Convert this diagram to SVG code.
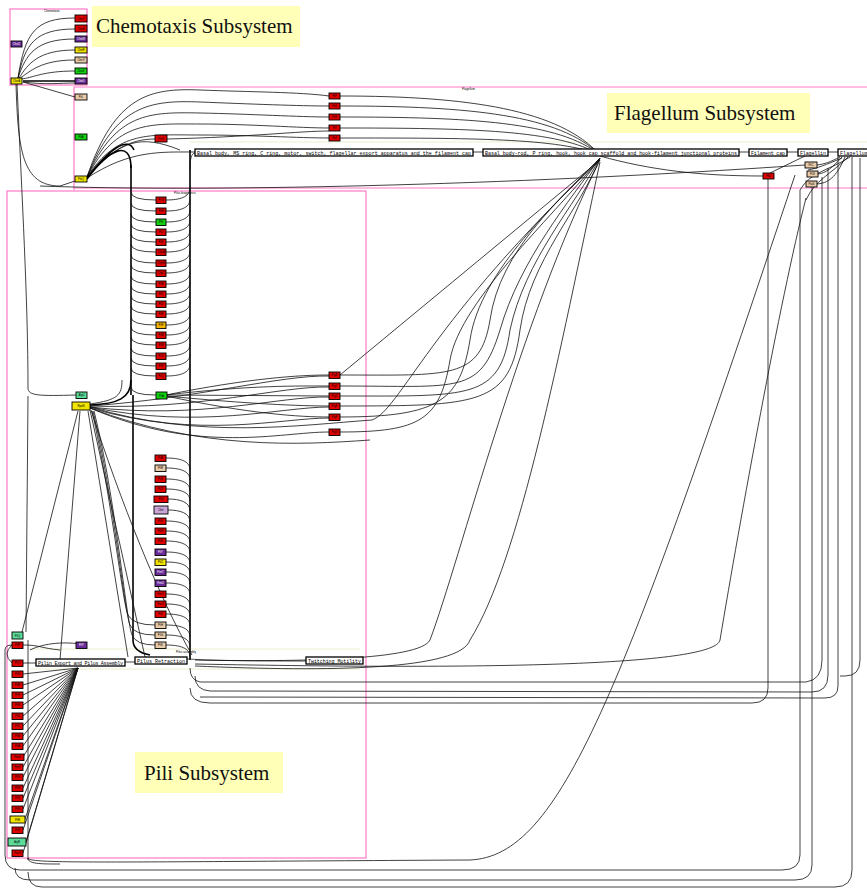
<svg xmlns="http://www.w3.org/2000/svg" width="867" height="890" viewBox="0 0 867 890">
<style>
.c{fill:none;stroke:#111;stroke-width:0.8}
.t{fill:none;stroke:#000;stroke-width:1.6}
.pk{fill:none;stroke:#ff7ac8;stroke-width:1.2}
.band{fill:none;stroke:#eeeed0;stroke-width:1}
.call{fill:#ffffb8}
.ct{font-family:"Liberation Serif",serif;font-size:21px;fill:#111}
.pb{fill:#fff;stroke:#000;stroke-width:1.3}
.pl{font-family:"Liberation Mono",monospace;font-size:5px;fill:#000}
.n rect{stroke:#000;stroke-width:0.9}
.n text{font-family:"Liberation Sans",sans-serif;font-size:2.8px;text-anchor:middle;fill:#000}
.r rect{fill:#e00000}.g rect{fill:#10d010}.p rect{fill:#6a2c98}.y rect{fill:#f0e400}.tn rect{fill:#e8cba8}.m rect{fill:#5cdc98}.o rect{fill:#f2b400}.l rect{fill:#caa6d6}
.p text{fill:#fff}
.tiny{font-family:"Liberation Sans",sans-serif;font-size:3px;fill:#000}
</style>
<rect width="867" height="890" fill="#fff"/>
<!-- cluster outlines -->
<rect class="pk" x="10" y="9" width="77" height="76"/>
<path class="pk" d="M74,190 V87 H867 M74,188 H867"/>
<rect class="pk" x="7" y="191" width="359" height="667"/>
<path class="band" d="M190,142 H867 M30,649 H360 M30,669 H360"/>
<text class="tiny" x="44" y="12">Chemotaxis</text>
<text class="tiny" x="462" y="90">Flagellum</text>
<text class="tiny" x="174" y="194">Pilus biogenesis</text>
<text class="tiny" x="176" y="653">Pilus assembly</text>
<!-- callouts -->
<g id="label-chemotaxis"><rect class="call" x="92" y="6" width="208" height="41"/><text class="ct" x="96" y="33">Chemotaxis Subsystem</text></g>
<g id="label-flagellum"><rect class="call" x="607" y="93" width="203" height="40"/><text class="ct" x="614" y="120">Flagellum Subsystem</text></g>
<g id="label-pili"><rect class="call" x="135" y="752" width="148" height="41"/><text class="ct" x="144" y="780">Pili Subsystem</text></g>

<g id="connectors">
<!-- chemotaxis -->
<path class="c" d="M18,78 C25,33 35,18 75,18 M18,78 C25,44 35,29 75,29 M18,78 C26,54 36,39 75,39 M19,78 C28,64 38,50 75,50 M20,78 C30,72 40,60 75,60 M21,79 C33,78 42,71 75,71"/>
<path class="t" d="M23,81 L75,81"/>
<path class="c" d="M23,82 C45,85 60,83 75,83 M23,82 L75,97"/>
<path class="c" d="M17,84 C22,200 28,300 28,388 C28,396 40,396 76,395"/>
<path class="c" d="M16,84 C18,150 22,186 60,186 L75,181"/>
<path class="c" d="M40,186 C200,192 500,186 805,165"/>
<path class="c" d="M28,396 L26,632"/>
<!-- flagellum hub fan up -->
<path class="c" d="M87,177 C115,95 150,88 200,90 S300,92 329,96 M87,177 C115,105 150,100 200,102 S300,106 329,106 M87,177 C116,112 150,112 200,113 S300,117 329,117 M87,177 C117,120 150,124 200,124 S300,128 329,128 M87,177 C118,130 150,135 200,135 S300,138 329,138"/>
<path class="c" d="M87,178 C110,150 130,139 155,139 M87,178 C130,150 160,152 195,152 M87,178 C120,140 140,134 180,150"/>
<path class="c" d="M340,96 C470,96 560,110 600,155 M340,106 C470,106 560,115 600,155 M340,117 C470,117 560,122 600,155 M340,128 C470,128 560,130 600,155 M340,138 C470,138 560,138 600,155 M167,139 C250,137 300,131 329,131"/>
<!-- flagellum process arrows -->
<path class="c" d="M473,152 H483 M739,152 H749 M787,152 H798 M828,152 H838"/>
<!-- vertical bundles -->
<path class="t" d="M190,150 V660 M131,165 V395 M133,395 V640 Q133,652 150,655"/>
<path class="t" d="M87,179 C108,150 131,138 131,168 M87,178 C110,148 128,136 134,150"/>
<path class="t" d="M90,405 C118,404 131,398 131,380"/>
<!-- upper column left connectors -->
<path class="c" d="M131,192 Q131,200 156,200 M131,203 Q131,211 156,211 M131,214 Q131,222 156,222 M131,224 Q131,232 156,232 M131,234 Q131,242 156,242 M131,244 Q131,252 156,252 M131,255 Q131,263 156,263 M131,265 Q131,273 156,273 M131,276 Q131,284 156,284 M131,286 Q131,294 156,294 M131,296 Q131,304 156,304 M131,306 Q131,314 156,314 M131,317 Q131,325 156,325 M131,327 Q131,335 156,335 M131,337 Q131,345 156,345 M131,348 Q131,356 156,356 M131,358 Q131,366 156,366 M131,368 Q131,376 156,376 M131,387 Q131,395 156,395"/>
<!-- upper column right connectors -->
<path class="c" d="M166,200 C180,200 190,197 190,188 M166,211 C180,211 190,208 190,199 M166,222 C180,222 190,219 190,210 M166,232 C180,232 190,229 190,220 M166,242 C180,242 190,239 190,230 M166,252 C180,252 190,249 190,240 M166,263 C180,263 190,260 190,251 M166,273 C180,273 190,270 190,261 M166,284 C180,284 190,281 190,272 M166,294 C180,294 190,291 190,282 M166,304 C180,304 190,301 190,292 M166,314 C180,314 190,311 190,302 M166,325 C180,325 190,322 190,313 M166,335 C180,335 190,332 190,323 M166,345 C180,345 190,342 190,333 M166,356 C180,356 190,353 190,344 M166,366 C180,366 190,363 190,354 M166,376 C180,376 190,373 190,364 M190,170 C190,156 192,153 196,153"/>
<!-- lower column right connectors -->
<path class="c" d="M166,458 C180,458 190,461 190,470 M166,468 C180,468 190,471 190,480 M166,479 C180,479 190,482 190,491 M166,489 C180,489 190,492 190,501 M168,499 C180,499 190,502 190,511 M168,510 C180,510 190,513 190,522 M166,521 C180,521 190,524 190,533 M166,531 C180,531 190,534 190,543 M166,541 C180,541 190,544 190,553 M166,552 C180,552 190,555 190,564 M166,562 C180,562 190,565 190,574 M166,572 C180,572 190,575 190,584 M166,583 C180,583 190,586 190,595 M166,594 C180,594 190,597 190,606 M166,604 C180,604 190,607 190,616 M166,614 C180,614 190,617 190,626 M166,625 C180,625 190,628 190,637 M166,635 C180,635 190,638 190,647 M166,645 C180,645 190,648 190,657"/>
<!-- tan nodes left connectors from RpoN -->
<path class="c" d="M92,411 C112,500 122,600 128,615 Q133,625 155,625 M93,411 C114,500 124,610 130,625 Q134,635 155,635 M94,411 C116,500 126,620 132,635 Q136,645 155,645"/>
<!-- RpoN fan -->
<path class="c" d="M78,411 L22,632 M80,411 L60,660 M88,411 L128,657 M90,410 L145,657 M91,410 C120,500 160,600 192,655"/>
<path class="c" d="M90,404 C118,400 122,395 122,380"/>
<path class="c" d="M166,395 C250,378 300,375 329,375 M166,395 C250,385 300,386 329,386 M166,395 L329,396 M166,396 C250,404 300,406 329,406 M166,396 C250,414 300,417 329,417"/>
<path class="c" d="M90,406 C200,398 280,375 329,376 M90,406 C200,410 280,386 329,387 M90,407 C200,420 280,396 329,397 M90,407 C200,430 280,407 329,407 M90,408 C200,440 280,418 329,418 M90,408 C200,455 280,432 329,432 M90,408 C200,450 300,445 370,440 M90,407 C200,440 300,425 372,420"/>
<!-- right reds to flagellum junction -->
<path class="c" d="M340,375 C450,375 480,380 490,320 C500,250 560,200 600,158 M340,386 C460,386 480,395 500,330 C520,260 570,200 600,158 M340,396 C470,396 500,400 510,330 C525,260 575,205 600,158 M340,406 C480,406 510,405 520,330 C530,260 580,210 600,158 M340,417 C440,417 460,400 470,340 C480,270 560,200 600,158 M340,375 L600,160 M372,420 C400,410 430,320 600,160 M340,432 C420,432 440,420 450,360 C460,300 560,210 600,158"/>
<path class="c" d="M600,160 C520,320 460,560 430,640 C420,660 300,662 195,660 M600,162 C560,350 520,560 470,640 C460,670 330,672 195,666"/>
<!-- flagellum right area -->
<path class="c" d="M600,156 C650,170 700,176 763,176 M805,156 L770,173 M840,157 C830,162 825,164 817,165 M842,157 C832,168 826,173 818,174 M845,157 C836,178 828,183 817,184 M850,157 C830,170 810,172 800,190 M848,157 C830,175 815,180 806,200 M842,158 C825,165 818,168 808,170"/>
<path class="c" d="M768,179 V688 Q768,703 752,703 L210,703 Q190,703 190,688"/>
<path class="c" d="M828,168 V675 Q828,692 812,692 L210,691 Q195,690 195,676"/>
<path class="c" d="M822,177 V660 Q822,680 806,682 L200,682 Q190,680 190,668"/>
<path class="c" d="M838,157 V686 Q838,698 825,698 L200,697"/>
<path class="c" d="M800,190 V855 Q800,870 782,870 L20,870 Q5,870 5,855 V650 Q5,645 12,645"/>
<path class="c" d="M812,187 V865 Q812,880 795,880 L30,880 Q15,880 15,868"/>
<path class="c" d="M852,157 V870 Q852,887 835,887 L42,887 Q28,887 28,872"/>
<path class="c" d="M860,158 V660 Q860,676 845,676 L840,676"/>
<path class="c" d="M28,858 C28,864 100,862 470,860 C560,856 620,700 795,175"/>
<path class="c" d="M806,198 C780,300 740,520 720,640 C715,665 500,670 195,664"/>
<!-- pili left -->
<path class="c" d="M12,645 Q2,654 12,663 M28,640 V860 M28,858 C28,864 40,864 60,864"/>
<path class="c" d="M23,674 L78,668 M23,685 L78,668 M23,695 L78,668 M23,705 L78,668 M23,716 L78,668 M23,726 L78,668 M23,736 L78,668 M23,746 L78,668 M23,757 L78,668 M23,767 L78,668 M23,777 L78,668 M23,788 L78,668 M23,798 L78,668 M23,809 L78,668 M25,819 L78,668 M23,830 L78,668 M26,842 L78,668 M23,853 L78,668"/>
<path class="c" d="M23,663 H36 M23,645 C40,645 40,648 60,650 M87,645 C60,640 40,645 30,650"/>
<path class="c" d="M125,662 H135 M187,659 C195,659 195,661 306,661"/>
</g>

<!-- chemotaxis nodes -->
<g id="che-left" class="n p"><rect x="11" y="41" width="11" height="6"/><text x="16.5" y="45">CheZ</text></g>
<g id="che-hub" class="n y"><rect x="11" y="78" width="11" height="6"/><text x="16.5" y="82">CheA</text></g>
<g id="che-1" class="n r"><rect x="75" y="15" width="12" height="7"/><text x="81" y="19.5">CheY</text></g>
<g id="che-2" class="n r"><rect x="75" y="25" width="12" height="7"/><text x="81" y="29.5">CheB</text></g>
<g id="che-3" class="n p"><rect x="75" y="36" width="12" height="6"/><text x="81" y="40">CheW</text></g>
<g id="che-4" class="n y"><rect x="75" y="47" width="12" height="6"/><text x="81" y="51">CheR</text></g>
<g id="che-5" class="n tn"><rect x="75" y="57" width="12" height="6"/><text x="81" y="61">CheV</text></g>
<g id="che-6" class="n g"><rect x="75" y="68" width="12" height="6"/><text x="81" y="72">CheZ</text></g>
<g id="che-7" class="n p"><rect x="75" y="78" width="12" height="6"/><text x="81" y="82">CheD</text></g>
<!-- flagellum nodes -->
<g id="fla-tan" class="n tn"><rect x="75" y="94" width="12" height="6"/><text x="81" y="98">FliL</text></g>
<g id="fla-green" class="n g"><rect x="75" y="134" width="12" height="6"/><text x="81" y="138">FliA</text></g>
<g id="fla-hub" class="n y"><rect x="75" y="176" width="12" height="6"/><text x="81" y="180">FleQ</text></g>
<g id="fla-red0" class="n r"><rect x="155" y="135" width="12" height="7"/><text x="161" y="139.5">FleN</text></g>
<g id="fla-r1" class="n r"><rect x="329" y="93" width="11" height="6"/><text x="334.5" y="97">FliF</text></g>
<g id="fla-r2" class="n r"><rect x="329" y="103" width="11" height="6"/><text x="334.5" y="107">FliG</text></g>
<g id="fla-r3" class="n r"><rect x="329" y="114" width="11" height="6"/><text x="334.5" y="118">FliH</text></g>
<g id="fla-r4" class="n r"><rect x="329" y="125" width="11" height="6"/><text x="334.5" y="129">FliI</text></g>
<g id="fla-r5" class="n r"><rect x="329" y="135" width="11" height="6"/><text x="334.5" y="139">FliJ</text></g>
<g id="fla-r6" class="n r"><rect x="763" y="173" width="11" height="6"/><text x="768.5" y="177">FliD</text></g>
<g id="fla-t1" class="n tn"><rect x="805" y="162" width="12" height="6"/><text x="811" y="166">FliC</text></g>
<g id="fla-t2" class="n tn"><rect x="807" y="171" width="11" height="6"/><text x="812.5" y="175">FliS</text></g>
<g id="fla-t3" class="n tn"><rect x="806" y="181" width="11" height="6"/><text x="811.5" y="185">FlaG</text></g>
<!-- flagellum process boxes -->
<g id="proc-f1"><rect class="pb" x="195" y="149" width="278" height="7"/><text class="pl" x="197" y="154.5" textLength="274">Basal body, MS ring, C ring, motor, switch, flagellar export apparatus and the filament cap</text></g>
<g id="proc-f2"><rect class="pb" x="483" y="149" width="256" height="7"/><text class="pl" x="485" y="154.5" textLength="252">Basal body-rod, P ring, hook, hook cap scaffold and hook-filament junctional proteins</text></g>
<g id="proc-f3"><rect class="pb" x="749" y="149" width="38" height="7"/><text class="pl" x="751" y="154.5" textLength="34">Filament cap</text></g>
<g id="proc-f4"><rect class="pb" x="798" y="149" width="30" height="7"/><text class="pl" x="800" y="154.5" textLength="26">Flagellin</text></g>
<g id="proc-f5"><rect class="pb" x="838" y="149" width="32" height="7"/><text class="pl" x="840" y="154.5" textLength="28">Flagellum</text></g>
<!-- pili upper column -->
<g id="pu1" class="n r"><rect x="156" y="197" width="10" height="6.5"/><text x="161" y="201.3">PilG</text></g>
<g id="pu2" class="n r"><rect x="156" y="208" width="10" height="6.5"/><text x="161" y="212.3">PilH</text></g>
<g id="pu3" class="n g"><rect x="156" y="219" width="10" height="6.5"/><text x="161" y="223.3">PilI</text></g>
<g id="pu4" class="n r"><rect x="156" y="229" width="10" height="6.5"/><text x="161" y="233.3">PilJ</text></g>
<g id="pu5" class="n r"><rect x="156" y="239" width="10" height="6.5"/><text x="161" y="243.3">PilK</text></g>
<g id="pu6" class="n r"><rect x="156" y="249" width="10" height="6.5"/><text x="161" y="253.3">ChpA</text></g>
<g id="pu7" class="n r"><rect x="156" y="260" width="10" height="6.5"/><text x="161" y="264.3">ChpB</text></g>
<g id="pu8" class="n r"><rect x="156" y="270" width="10" height="6.5"/><text x="161" y="274.3">ChpC</text></g>
<g id="pu9" class="n r"><rect x="156" y="281" width="10" height="6.5"/><text x="161" y="285.3">PilB</text></g>
<g id="pu10" class="n r"><rect x="156" y="291" width="10" height="6.5"/><text x="161" y="295.3">PilC</text></g>
<g id="pu11" class="n r"><rect x="156" y="301" width="10" height="6.5"/><text x="161" y="305.3">PilD</text></g>
<g id="pu12" class="n r"><rect x="156" y="311" width="10" height="6.5"/><text x="161" y="315.3">PilE</text></g>
<g id="pu13" class="n o"><rect x="156" y="322" width="10" height="6.5"/><text x="161" y="326.3">PilF</text></g>
<g id="pu14" class="n r"><rect x="156" y="332" width="10" height="6.5"/><text x="161" y="336.3">PilM</text></g>
<g id="pu15" class="n r"><rect x="156" y="342" width="10" height="6.5"/><text x="161" y="346.3">PilN</text></g>
<g id="pu16" class="n r"><rect x="156" y="353" width="10" height="6.5"/><text x="161" y="357.3">PilO</text></g>
<g id="pu17" class="n r"><rect x="156" y="363" width="10" height="6.5"/><text x="161" y="367.3">PilP</text></g>
<g id="pu18" class="n r"><rect x="156" y="373" width="10" height="6.5"/><text x="161" y="377.3">PilQ</text></g>
<g id="pu-green" class="n g"><rect x="156" y="392" width="11" height="7"/><text x="161.5" y="396.5">FliA</text></g>
<!-- right reds -->
<g id="pr1" class="n r"><rect x="329" y="372" width="11" height="6.5"/><text x="334.5" y="376.3">FlgB</text></g>
<g id="pr2" class="n r"><rect x="329" y="383" width="11" height="6.5"/><text x="334.5" y="387.3">FlgC</text></g>
<g id="pr3" class="n r"><rect x="329" y="393" width="11" height="6.5"/><text x="334.5" y="397.3">FlgD</text></g>
<g id="pr4" class="n r"><rect x="329" y="403" width="11" height="6.5"/><text x="334.5" y="407.3">FlgE</text></g>
<g id="pr5" class="n r"><rect x="329" y="414" width="11" height="6.5"/><text x="334.5" y="418.3">FlgF</text></g>
<g id="pr6" class="n r"><rect x="329" y="429" width="11" height="6.5"/><text x="334.5" y="433.3">FlgG</text></g>
<!-- hubs -->
<g id="mint" class="n m"><rect x="76" y="392" width="11" height="6.5"/><text x="81.5" y="396.3">AlgU</text></g>
<g id="rpon" class="n y"><rect x="72" y="402" width="18" height="8"/><text x="81" y="407">RpoN</text></g>
<!-- pili lower column -->
<g id="pl1" class="n r"><rect x="155" y="455" width="11" height="6.5"/><text x="160.5" y="459.3">PilA</text></g>
<g id="pl2" class="n tn"><rect x="155" y="465" width="11" height="6.5"/><text x="160.5" y="469.3">PilR</text></g>
<g id="pl3" class="n r"><rect x="155" y="476" width="11" height="6.5"/><text x="160.5" y="480.3">PilS</text></g>
<g id="pl4" class="n r"><rect x="155" y="486" width="11" height="6.5"/><text x="160.5" y="490.3">PilT</text></g>
<g id="pl5" class="n r"><rect x="154" y="496" width="14" height="6.5"/><text x="161" y="500.3">PilU</text></g>
<g id="pl6" class="n l"><rect x="154" y="506" width="14" height="8"/><text x="161" y="511">Cbrt</text></g>
<g id="pl7" class="n r"><rect x="155" y="518" width="11" height="6.5"/><text x="160.5" y="522.3">PilV</text></g>
<g id="pl8" class="n r"><rect x="155" y="528" width="11" height="6.5"/><text x="160.5" y="532.3">PilW</text></g>
<g id="pl9" class="n r"><rect x="155" y="538" width="11" height="6.5"/><text x="160.5" y="542.3">PilX</text></g>
<g id="pl10" class="n p"><rect x="155" y="549" width="11" height="6.5"/><text x="160.5" y="553.3">PilY</text></g>
<g id="pl11" class="n y"><rect x="155" y="559" width="11" height="6.5"/><text x="160.5" y="563.3">PilZ</text></g>
<g id="pl12" class="n p"><rect x="155" y="569" width="11" height="6.5"/><text x="160.5" y="573.3">FimT</text></g>
<g id="pl13" class="n p"><rect x="155" y="580" width="11" height="6.5"/><text x="160.5" y="584.3">FimU</text></g>
<g id="pl14" class="n r"><rect x="155" y="591" width="11" height="6.5"/><text x="160.5" y="595.3">FimV</text></g>
<g id="pl15" class="n r"><rect x="155" y="601" width="11" height="6.5"/><text x="160.5" y="605.3">FimX</text></g>
<g id="pl16" class="n r"><rect x="155" y="611" width="11" height="6.5"/><text x="160.5" y="615.3">PilJ</text></g>
<g id="pl17" class="n tn"><rect x="155" y="622" width="11" height="6.5"/><text x="160.5" y="626.3">PilH</text></g>
<g id="pl18" class="n tn"><rect x="155" y="632" width="11" height="6.5"/><text x="160.5" y="636.3">PilG</text></g>
<g id="pl19" class="n tn"><rect x="155" y="642" width="11" height="6.5"/><text x="160.5" y="646.3">PilK</text></g>
<g id="pili-purple" class="n p"><rect x="76" y="642" width="11" height="6.5"/><text x="81.5" y="646.3">PilY</text></g>
<!-- pili process boxes -->
<g id="proc-p1"><rect class="pb" x="36" y="659" width="89" height="7"/><text class="pl" x="38" y="664.5" textLength="85">Pilin Export and Pilus Assembly</text></g>
<g id="proc-p2"><rect class="pb" x="135" y="657" width="52" height="7"/><text class="pl" x="137" y="662.5" textLength="48">Pilus Retraction</text></g>
<g id="proc-p3"><rect class="pb" x="306" y="657" width="57" height="7"/><text class="pl" x="308" y="662.5" textLength="53">Twitching Motility</text></g>
<!-- pili left column -->
<g id="ll0" class="n m"><rect x="12" y="632" width="11" height="7"/><text x="17.5" y="636.5">PilQ</text></g>
<g id="ll1" class="n r"><rect x="12" y="642" width="11" height="6.5"/><text x="17.5" y="646.3">PilP</text></g>
<g id="ll2" class="n r"><rect x="12" y="660" width="11" height="6.5"/><text x="17.5" y="664.3">PilO</text></g>
<g id="ll3" class="n r"><rect x="12" y="671" width="11" height="6.5"/><text x="17.5" y="675.3">PilN</text></g>
<g id="ll4" class="n r"><rect x="12" y="682" width="11" height="6.5"/><text x="17.5" y="686.3">PilM</text></g>
<g id="ll5" class="n r"><rect x="12" y="692" width="11" height="6.5"/><text x="17.5" y="696.3">PilF</text></g>
<g id="ll6" class="n r"><rect x="12" y="702" width="11" height="6.5"/><text x="17.5" y="706.3">PilE</text></g>
<g id="ll7" class="n r"><rect x="12" y="713" width="11" height="6.5"/><text x="17.5" y="717.3">PilD</text></g>
<g id="ll8" class="n r"><rect x="12" y="723" width="11" height="6.5"/><text x="17.5" y="727.3">PilC</text></g>
<g id="ll9" class="n r"><rect x="12" y="733" width="11" height="6.5"/><text x="17.5" y="737.3">PilB</text></g>
<g id="ll10" class="n r"><rect x="12" y="743" width="11" height="6.5"/><text x="17.5" y="747.3">PilA</text></g>
<g id="ll11" class="n r"><rect x="11" y="754" width="13" height="6.5"/><text x="17.5" y="758.3">FimU</text></g>
<g id="ll12" class="n r"><rect x="12" y="764" width="11" height="6.5"/><text x="17.5" y="768.3">FimT</text></g>
<g id="ll13" class="n r"><rect x="12" y="774" width="11" height="6.5"/><text x="17.5" y="778.3">PilV</text></g>
<g id="ll14" class="n r"><rect x="12" y="785" width="11" height="6.5"/><text x="17.5" y="789.3">PilW</text></g>
<g id="ll15" class="n r"><rect x="12" y="795" width="11" height="6.5"/><text x="17.5" y="799.3">PilX</text></g>
<g id="ll16" class="n r"><rect x="12" y="806" width="11" height="6.5"/><text x="17.5" y="810.3">PilE</text></g>
<g id="ll17" class="n y"><rect x="10" y="816" width="15" height="7"/><text x="17.5" y="820.5">PilR</text></g>
<g id="ll18" class="n r"><rect x="12" y="827" width="11" height="6.5"/><text x="17.5" y="831.3">PilS</text></g>
<g id="ll19" class="n m"><rect x="8" y="838" width="18" height="8"/><text x="17" y="843">AlgR</text></g>
<g id="ll20" class="n r"><rect x="12" y="850" width="11" height="6.5"/><text x="17.5" y="854.3">FimS</text></g>
</svg>
